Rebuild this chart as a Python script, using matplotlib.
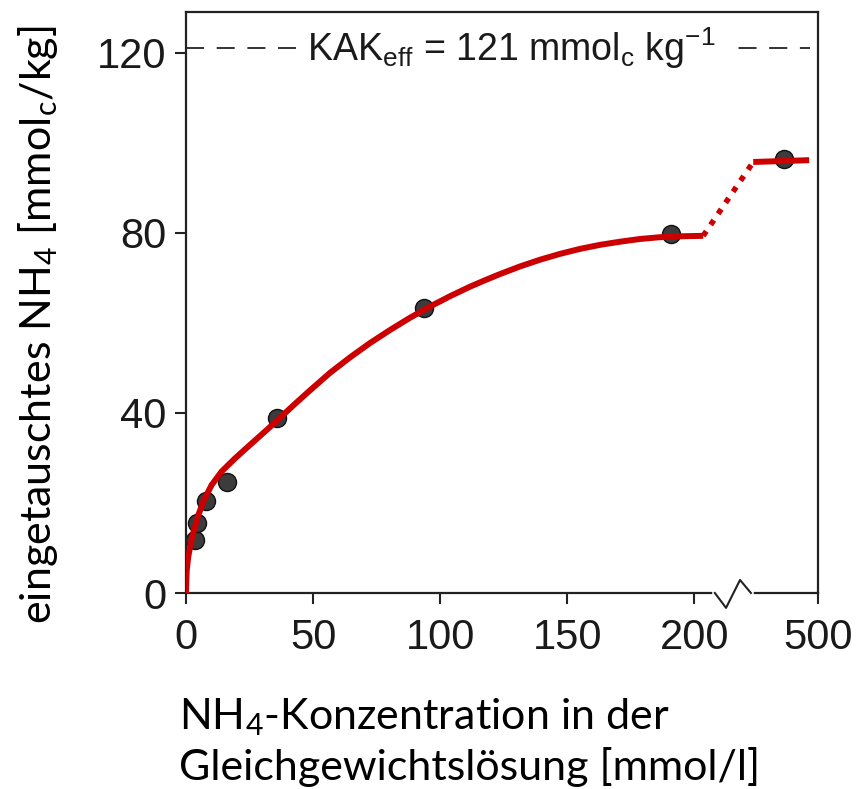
import numpy as np
import matplotlib
matplotlib.use("Agg")
import matplotlib.pyplot as plt

# measured points (x on the broken axis scale; last point stands for ~500)
point_x = [3.5, 4.2, 7.9, 16.0, 35.7, 93.6, 190.8, 235.3]
point_y = [11.8, 15.5, 20.5, 24.7, 38.8, 63.3, 79.6, 96.4]

# red fitted curve
curve_x = [0.0, 0.0, 0.28, 0.9, 1.85, 3.15, 4.84, 7.08, 10.1, 14.05, 19.3, 25.2,
           31.75, 38.3, 42.9, 48.8, 56.7, 64.5, 72.4, 80.3, 88.1, 96.0, 103.9,
           111.7, 118.3, 123.5, 131.4, 139.3, 147.2, 155.0, 162.9, 170.8, 178.6,
           186.5, 194.4, 203.5]
curve_y = [0.0, 0.7, 5.1, 8.1, 11.0, 14.0, 17.3, 20.7, 24.0, 27.0, 29.9, 32.9,
           36.2, 39.6, 42.0, 45.0, 48.9, 52.3, 55.5, 58.4, 61.1, 63.6, 65.9,
           68.0, 69.6, 70.8, 72.5, 74.0, 75.3, 76.4, 77.3, 78.0, 78.6,
           79.0, 79.2, 79.3]
jump_x = [203.5, 223.2]
jump_y = [79.3, 95.7]
plateau_x = [223.2, 245.2]
plateau_y = [95.7, 96.1]

kak = 121
xtick_pos = [0, 50, 100, 150, 200, 248.7]
xtick_labels = ["0", "50", "100", "150", "200", "500"]
ytick_pos = [0, 40, 80, 120]

# zigzag break on the x axis
break_x = [208.1, 212.5, 218.0, 222.3]
break_y = [0, -3.3, 2.9, 0]

RED = "#cc0000"
AX = "#222222"
tick_font = "Liberation Sans"
label_font = "Lato"

fig = plt.figure(figsize=(8.64, 7.89), dpi=100)
ax = fig.add_axes([0.2153, 0.2484, 0.9468 - 0.2153, 0.9848 - 0.2484])

ax.plot(curve_x, curve_y, color=RED, lw=4.3, solid_capstyle="butt",
        solid_joinstyle="round", zorder=3)
ax.plot(jump_x, jump_y, color=RED, lw=4.0, linestyle=(0, (1, 1.4)),
        dash_capstyle="butt", zorder=3)
ax.plot(plateau_x, plateau_y, color=RED, lw=4.3, solid_capstyle="butt", zorder=3)
ax.plot(point_x, point_y, "o", ms=13, color="#3c3c3c", mec="#111111", mew=1.0,
        zorder=2)

# KAK line with label
ax.plot([0, 245.5], [kak, kak], color=AX, lw=1.3, linestyle=(0, (10, 7)), zorder=1)
ax.text(128, kak, r"KAK$\mathregular{_{eff}}$ = 121 mmol$\mathregular{_c}$ kg$\mathregular{^{-1}}$",
        ha="center", va="center", fontsize=27, family=tick_font, color="#1a1a1a",
        bbox=dict(facecolor="white", edgecolor="none", pad=8), zorder=2)

ax.set_xlim(0, 248.7)
ax.set_ylim(0, 129)
ax.set_xticks(xtick_pos)
ax.set_xticklabels(xtick_labels)
ax.set_yticks(ytick_pos)
ax.tick_params(direction="out", length=8, width=1.5, color=AX, labelcolor="#1a1a1a",
               labelsize=30, pad=6)
ax.tick_params(axis="x", pad=10)
for lab in ax.get_xticklabels() + ax.get_yticklabels():
    lab.set_family(tick_font)
for sp in ax.spines.values():
    sp.set_linewidth(1.6)
    sp.set_color(AX)

# axis break: hide the spine under the zigzag and draw it
ax.plot([break_x[0], break_x[-1]], [0, 0], color="white", lw=4, clip_on=False, zorder=4)
ax.plot(break_x, break_y, color=AX, lw=1.5, clip_on=False, zorder=5)

fig.text(0.044, 0.588, r"eingetauschtes NH$\mathregular{_4}$ [mmol$\mathregular{_c}$/kg]",
         rotation=90, ha="center", va="center", fontsize=31, family=label_font)
fig.text(0.207, 0.06, "NH$\\mathregular{_4}$-Konzentration in der\nGleichgewichtslösung [mmol/l]",
         ha="left", va="center", fontsize=31, family=label_font, linespacing=1.3)

fig.savefig("out.png", dpi=100)
